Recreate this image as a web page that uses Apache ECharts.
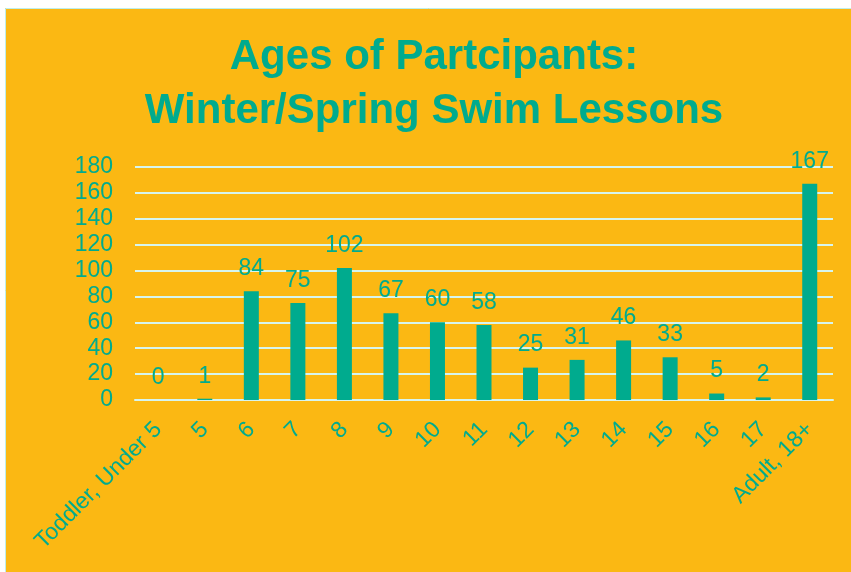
<!DOCTYPE html>
<html>
<head>
<meta charset="utf-8">
<script src="https://cdn.jsdelivr.net/npm/echarts@6/dist/echarts.min.js"></script>
<style>
  html, body { margin: 0; padding: 0; background: #ffffff; }
  #chart { width: 851px; height: 572px; }
</style>
</head>
<body>
<div id="chart"></div>
<script>
// Participant counts by age group
const categories = ['Toddler, Under 5', '5', '6', '7', '8', '9', '10', '11', '12', '13', '14', '15', '16', '17', 'Adult, 18+'];
const participants = [0, 1, 84, 75, 102, 67, 60, 58, 25, 31, 46, 33, 5, 2, 167];

const teal = '#00AB8E';
const gold = '#FBB813';
const gridColor = '#D6F5EE';
const font = '"Liberation Sans", Arial, sans-serif';

const chart = echarts.init(document.getElementById('chart'), null, { renderer: 'canvas' });

chart.setOption({
  backgroundColor: gold,
  animation: false,
  title: {
    text: 'Ages of Partcipants:\nWinter/Spring Swim Lessons',
    left: 434,
    textAlign: 'center',
    top: 30,
    padding: 0,
    textStyle: {
      color: teal,
      fontFamily: font,
      fontWeight: 'bold',
      fontSize: 42,
      lineHeight: 54
    }
  },
  grid: { left: 135, right: 18, top: 167, bottom: 172 },
  xAxis: {
    type: 'category',
    data: categories,
    axisLine: { show: true, lineStyle: { color: gridColor, width: 2 } },
    axisTick: { show: false },
    axisLabel: {
      interval: 0,
      rotate: 45,
      margin: 26,
      color: teal,
      fontFamily: font,
      fontSize: 23
    }
  },
  yAxis: {
    type: 'value',
    min: 0,
    max: 180,
    interval: 20,
    axisLine: { show: false },
    axisTick: { show: false },
    splitLine: { lineStyle: { color: gridColor, width: 2 } },
    axisLabel: {
      margin: 22,
      color: teal,
      fontFamily: font,
      fontSize: 23
    }
  },
  series: [{
    type: 'bar',
    data: participants,
    barWidth: 15,
    itemStyle: { color: teal },
    label: {
      show: true,
      position: 'top',
      distance: 11,
      color: teal,
      fontFamily: font,
      fontSize: 23
    }
  }],
  graphic: [
    { type: 'rect', shape: { x: 0, y: 0, width: 851, height: 8 }, style: { fill: '#ffffff' }, silent: true },
    { type: 'rect', shape: { x: 0, y: 0, width: 5, height: 572 }, style: { fill: '#ffffff' }, silent: true },
    { type: 'line', shape: { x1: 5.5, y1: 8.5, x2: 851, y2: 8.5 }, style: { stroke: '#BDEFEA', lineWidth: 1 }, silent: true },
    { type: 'line', shape: { x1: 5.5, y1: 8.5, x2: 5.5, y2: 572 }, style: { stroke: '#BDEFEA', lineWidth: 1 }, silent: true }
  ]
});
</script>
</body>
</html>
